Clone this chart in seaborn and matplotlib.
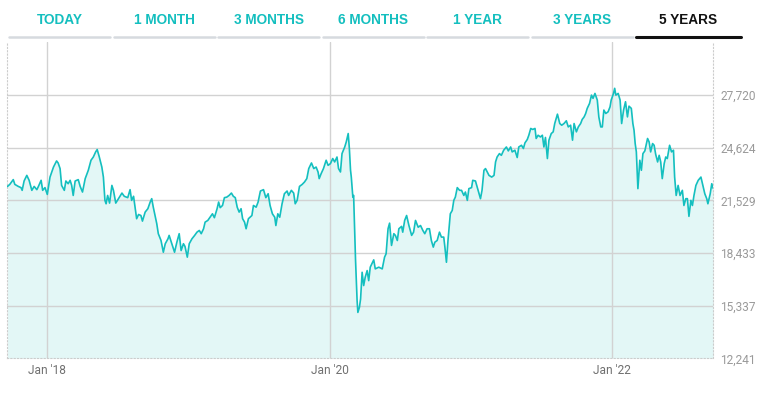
import numpy as np
import pandas as pd
import seaborn as sns
import matplotlib.pyplot as plt
from matplotlib.lines import Line2D

# index level, x = days counted from 1 Jan 2018
days_a = [-103, -97, -88, -84, -75, -68, -65, -60, -53, -47, -40, -34, -27, -23, -16, -12, -6, 0,
          7, 16, 24, 28, 33, 37, 44, 48, 54, 59, 63, 67, 72, 80, 85, 91, 98, 106, 113, 119, 125,
          129, 134, 141, 145, 149, 152, 156, 161, 167, 171, 177, 184, 193, 199]
close_a = [22350, 22470, 22750, 22470, 22350, 22280, 22120, 22670, 23000, 22710, 22120, 22350,
           22160, 22350, 22710, 22120, 22280, 21880, 22900, 23490, 23850, 23730, 23400, 22410,
           22120, 22670, 22510, 22710, 22410, 21820, 22670, 22750, 22350, 22020, 22810, 23300,
           23890, 24080, 24380, 24520, 24120, 23490, 22900, 21530, 21330, 21820, 21370, 22410,
           22120, 21370, 21630, 21960, 21770]

days_b = [208, 214, 218, 223, 227, 231, 236, 242, 246, 253, 260, 266, 270, 274, 279, 283, 287,
          294, 300, 305, 312, 315, 322, 329, 335, 341, 346, 352, 356, 362, 367, 374, 381, 387,
          393, 398, 404, 408, 415, 421, 427, 432, 439, 443, 447, 453, 458, 464, 470, 476, 481,
          486, 491, 496, 501, 505, 510, 514, 520]
close_b = [21690, 22160, 21530, 21770, 21130, 20450, 20700, 20640, 20310, 20840, 21040, 21430,
           21630, 21130, 20590, 20160, 19570, 19170, 18480, 18980, 19270, 19470, 18980, 18480,
           19070, 19570, 18580, 18980, 18820, 18190, 18980, 19270, 19470, 19660, 19760, 19570,
           19860, 20250, 20350, 20540, 20740, 20510, 21040, 21430, 21100, 21230, 21690, 21720,
           21820, 21960, 21770, 21690, 21130, 20840, 21040, 20450, 20250, 19860, 20450]

days_c = [529, 533, 540, 545, 551, 559, 565, 571, 576, 582, 588, 591, 596, 601, 607, 613, 620,
          624, 631, 637, 641, 646, 652, 659, 665, 671, 676, 683, 689, 695, 700, 703, 708, 714,
          721, 726, 732, 738, 743, 749, 753, 758, 762, 769, 773, 778, 781, 784, 786, 790, 792,
          797, 801, 803, 807, 810, 814, 818, 822, 827, 831]
close_c = [20640, 21230, 21130, 21430, 22080, 22160, 21690, 21920, 21230, 20740, 20540, 20050,
           20740, 20540, 21330, 21920, 22080, 21820, 22120, 21960, 21330, 21530, 22350, 22470,
           22610, 22810, 23400, 23730, 23400, 23490, 23200, 22810, 23100, 23400, 23890, 23590,
           23690, 23990, 23790, 24080, 23400, 23200, 24280, 24670, 24970, 25460, 24580, 23300,
           22900, 21720, 21820, 17990, 15630, 14940, 15240, 15730, 17300, 16520, 17010, 17400,
           16810]

days_d = [835, 844, 848, 857, 866, 872, 876, 881, 885, 890, 896, 900, 905, 909, 916, 919, 924,
          929, 935, 942, 947, 952, 959, 965, 971, 976, 982, 988, 993, 998, 1002, 1008, 1014,
          1019, 1025, 1028, 1032, 1036, 1042, 1047, 1051, 1055, 1060, 1066, 1071, 1077, 1081,
          1086, 1090, 1097, 1100, 1107, 1114, 1120, 1124, 1129, 1133]
close_d = [17600, 18030, 17500, 17600, 17500, 18190, 18390, 19860, 20190, 18880, 19570, 19470,
           19170, 19860, 20000, 19660, 20350, 20640, 20050, 19470, 19660, 20350, 19950, 20050,
           19760, 19570, 19860, 19860, 19170, 18780, 19070, 19170, 19660, 19370, 19370, 18780,
           17890, 19170, 20740, 20940, 21530, 21720, 22280, 22120, 22120, 21820, 22020, 21530,
           22220, 22280, 22710, 22670, 22120, 21630, 22120, 23300, 23400]

days_e = [1142, 1149, 1155, 1159, 1163, 1169, 1174, 1180, 1187, 1192, 1198, 1202, 1209, 1215,
          1219, 1226, 1231, 1235, 1241, 1245, 1250, 1255, 1261, 1264, 1269, 1275, 1280, 1284,
          1288, 1293, 1297, 1303, 1308, 1312, 1319, 1325, 1330, 1336, 1342, 1347, 1353, 1358,
          1362, 1368, 1373, 1379, 1383, 1388, 1392, 1396, 1402, 1407, 1411, 1416, 1422, 1426,
          1431]
close_e = [23000, 22900, 23000, 23790, 24080, 24280, 24180, 24480, 24670, 24440, 24670, 24380,
           24480, 24050, 24670, 24770, 24580, 24910, 25110, 25360, 25760, 25700, 25760, 25170,
           25360, 25260, 25360, 24670, 25230, 23990, 25070, 25460, 25560, 26050, 26600, 26050,
           25950, 26050, 26210, 25850, 25950, 25070, 26050, 25560, 25850, 26050, 26290, 26440,
           26640, 26940, 27230, 27720, 27530, 27820, 27430, 26440, 25850]

days_f = [1435, 1439, 1444, 1450, 1455, 1458, 1464, 1467, 1470, 1476, 1481, 1485, 1490, 1495,
          1500, 1504, 1510, 1514, 1517, 1520, 1523, 1527, 1532, 1536, 1540, 1545, 1552, 1556,
          1560, 1565, 1569, 1573, 1578, 1582, 1586, 1590, 1595, 1599, 1603, 1609, 1614, 1619,
          1622, 1626, 1631, 1636, 1642, 1646, 1651, 1655, 1659, 1664, 1668, 1672, 1677, 1683,
          1690, 1694, 1700, 1705, 1708, 1714, 1718, 1722]
close_f = [25850, 26840, 26640, 26740, 27030, 27430, 27820, 28120, 27720, 27820, 27430, 26050,
           26840, 27330, 26440, 27070, 26940, 26050, 25660, 24870, 24380, 22220, 23890, 23300,
           24280, 24440, 25170, 24970, 24380, 24870, 24770, 24240, 23790, 24180, 23790, 22810,
           23690, 24080, 23990, 24770, 24380, 24480, 22900, 21820, 22410, 21820, 22120, 21230,
           21630, 21630, 20590, 21530, 21230, 21820, 22410, 22710, 22900, 22510, 21920, 21630,
           21330, 21920, 22510, 22220]

tabs = ['TODAY', '1 MONTH', '3 MONTHS', '6 MONTHS', '1 YEAR', '3 YEARS', '5 YEARS']
active_tab = '5 YEARS'

y_ticks = [12241, 15337, 18433, 21529, 24624, 27720]
y_top = 30816
x_ticks = ['2018-01-01', '2020-01-01', '2022-01-01']
x_labels = ["Jan '18", "Jan '20", "Jan '22"]

teal = '#14bfbf'
fill = '#e3f7f6'
grid = '#d2d2d2'

days = days_a + days_b + days_c + days_d + days_e + days_f
close = close_a + close_b + close_c + close_d + close_e + close_f
df = pd.DataFrame({'date': pd.Timestamp('2018-01-01') + pd.to_timedelta(days, unit='D'),
                   'close': close})

sns.set_style('white')
plt.rcParams['font.family'] = ['Roboto', 'DejaVu Sans']

fig = plt.figure(figsize=(7.62, 3.96), dpi=100)
ax = fig.add_axes([0.0098, 0.0952, 0.9263, 0.7975])

ax.fill_between(df['date'], df['close'], y_ticks[0], color=fill, lw=0, zorder=1)
for y in y_ticks[1:]:
    ax.axhline(y, color=grid, lw=1, zorder=2)
for d in pd.to_datetime(x_ticks):
    ax.axvline(d, color=grid, lw=1, zorder=2)
sns.lineplot(data=df, x='date', y='close', ax=ax, color=teal, lw=1.2, zorder=3)

ax.set_xlim(df['date'].min(), df['date'].max())
ax.set_ylim(y_ticks[0], y_top)
ax.set_yticks(y_ticks)
ax.set_yticklabels([f'{v:,}' for v in y_ticks])
ax.yaxis.tick_right()
ax.set_xticks(pd.to_datetime(x_ticks))
ax.set_xticklabels(x_labels)
ax.set_xlabel('')
ax.set_ylabel('')
ax.tick_params(axis='y', length=0, pad=5, labelsize=8.6, labelcolor='#9a9a9a')
ax.tick_params(axis='x', length=0, pad=4, labelsize=8.6, labelcolor='#707070')

ax.spines['top'].set_visible(False)
for side in ['left', 'right', 'bottom']:
    ax.spines[side].set_color('#cccccc')
    ax.spines[side].set_linewidth(0.8)
    ax.spines[side].set_linestyle((0, (1, 2)))

# range tabs across the top
W = 762.0
H = 396.0
step = 104.5
for i, label in enumerate(tabs):
    x0 = 9 + i * step
    x1 = x0 + 101 if label != active_tab else 741
    on = label == active_tab
    fig.text((x0 + x1) / 2 / W, 1 - 20 / H, label, ha='center', va='center',
             fontsize=9.8, fontweight='bold', family=['Liberation Sans', 'DejaVu Sans'],
             color='#111111' if on else teal)
    fig.add_artist(Line2D([x0 / W, x1 / W], [1 - 36.5 / H, 1 - 36.5 / H],
                          color='#111111' if on else '#d6dadf', lw=2.2 if on else 1.8))

fig.savefig('out.png', dpi=100)
